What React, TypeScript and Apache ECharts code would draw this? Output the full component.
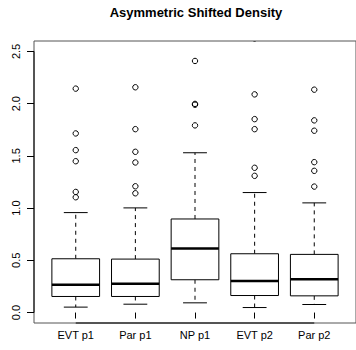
import React, { useEffect, useRef } from "react";
import * as echarts from "echarts";

const categories = ["EVT p1", "Par p1", "NP p1", "EVT p2", "Par p2"];
const lowerWhisker = [0.052, 0.08, 0.093, 0.048, 0.077];
const q1 = [0.154, 0.154, 0.314, 0.163, 0.16];
const medians = [0.266, 0.275, 0.614, 0.301, 0.32];
const q3 = [0.515, 0.512, 0.896, 0.563, 0.557];
const upperWhisker = [0.957, 1.002, 1.53, 1.149, 1.05];
const outliers = [
  [2.144, 1.715, 1.555, 1.449, 1.155, 1.104],
  [2.157, 1.756, 1.539, 1.437, 1.209, 1.142],
  [2.409, 1.998, 1.99, 1.792],
  [2.625, 2.089, 1.852, 1.756, 1.386, 1.309],
  [2.64, 2.134, 1.84, 1.741, 1.44, 1.357, 1.206],
];
const yTicks = [0, 0.5, 1, 1.5, 2, 2.5];
const xTicks = [1, 2, 3, 4, 5];
const title = "Asymmetric Shifted Density";

const FONT = "'Liberation Sans', Arial, sans-serif";

export default function App() {
  const ref = useRef<HTMLDivElement>(null);
  useEffect(() => {
    if (!ref.current) return;
    const chart = echarts.init(ref.current, null, { renderer: "svg" });
    const boxData = categories.map((_, i) => [
      i + 1,
      lowerWhisker[i],
      q1[i],
      medians[i],
      q3[i],
      upperWhisker[i],
    ]);
    const outlierData: number[][] = [];
    outliers.forEach((arr, i) => arr.forEach((v) => outlierData.push([i + 1, v])));

    const option: any = {
      animation: false,
      backgroundColor: "#fff",
      graphic: [
        {
          type: "text",
          x: 196,
          y: 6,
          style: {
            text: title,
            fontFamily: FONT,
            fontWeight: "bold",
            fontSize: 13,
            fill: "#000",
            textAlign: "center",
            textVerticalAlign: "top",
          },
        },
      ],
      grid: {
        left: 34,
        top: 41,
        width: 324,
        height: 282,
        show: true,
        borderColor: "#555",
        borderWidth: 1,
        backgroundColor: "transparent",
      },
      xAxis: {
        type: "value",
        min: 0.3,
        max: 5.7,
        axisLine: { show: false },
        splitLine: { show: false },
        axisTick: {
          show: true,
          customValues: xTicks,
          length: 6,
          lineStyle: { color: "#000", width: 1 },
        },
        axisLabel: {
          customValues: xTicks,
          formatter: (v: number) => categories[Math.round(v) - 1] ?? "",
          fontFamily: FONT,
          fontSize: 11,
          color: "#000",
          margin: 6,
        },
      },
      yAxis: {
        type: "value",
        min: -0.1,
        max: 2.6,
        axisLine: { show: false },
        splitLine: { show: false },
        axisTick: {
          show: true,
          customValues: yTicks,
          length: 7,
          lineStyle: { color: "#000", width: 1 },
        },
        axisLabel: {
          customValues: yTicks,
          formatter: (v: number) => v.toFixed(1),
          rotate: 90,
          fontFamily: FONT,
          fontSize: 11,
          color: "#000",
          margin: 13,
        },
      },
      series: [
        {
          type: "custom",
          clip: false,
          z: 10,
          data: [[0]],
          renderItem: (params: any, api: any) => {
            const a = api.coord([xTicks[0], -0.1]);
            const b = api.coord([xTicks[xTicks.length - 1], -0.1]);
            const c = api.coord([0.3, yTicks[0]]);
            const d = api.coord([0.3, yTicks[yTicks.length - 1]]);
            return {
              type: "group",
              children: [
                {
                  type: "line",
                  shape: { x1: a[0], y1: a[1], x2: b[0], y2: b[1] },
                  style: { stroke: "#000", lineWidth: 1 },
                },
                {
                  type: "line",
                  shape: { x1: c[0], y1: c[1], x2: d[0], y2: d[1] },
                  style: { stroke: "#000", lineWidth: 1 },
                },
              ],
            };
          },
        },
        {
          type: "custom",
          clip: true,
          data: boxData,
          renderItem: (params: any, api: any) => {
            const x = api.value(0);
            const lo = api.coord([x, api.value(1)]);
            const b1 = api.coord([x, api.value(2)]);
            const md = api.coord([x, api.value(3)]);
            const b3 = api.coord([x, api.value(4)]);
            const hi = api.coord([x, api.value(5)]);
            const cx = md[0];
            const halfW = api.size([0.8, 0])[0] / 2;
            const capHalf = halfW / 2;
            const st = { stroke: "#000", lineWidth: 1, fill: "none" };
            const dash = { stroke: "#000", lineWidth: 1, lineDash: [4, 4] };
            return {
              type: "group",
              children: [
                { type: "line", shape: { x1: cx, y1: b3[1], x2: cx, y2: hi[1] }, style: dash },
                { type: "line", shape: { x1: cx, y1: b1[1], x2: cx, y2: lo[1] }, style: dash },
                { type: "line", shape: { x1: cx - capHalf, y1: hi[1], x2: cx + capHalf, y2: hi[1] }, style: st },
                { type: "line", shape: { x1: cx - capHalf, y1: lo[1], x2: cx + capHalf, y2: lo[1] }, style: st },
                {
                  type: "rect",
                  shape: { x: cx - halfW, y: b3[1], width: 2 * halfW, height: b1[1] - b3[1] },
                  style: { stroke: "#000", lineWidth: 1, fill: "#fff" },
                },
                {
                  type: "line",
                  shape: { x1: cx - halfW, y1: md[1], x2: cx + halfW, y2: md[1] },
                  style: { stroke: "#000", lineWidth: 2.5 },
                },
              ],
            };
          },
        },
        {
          type: "custom",
          clip: true,
          data: outlierData,
          renderItem: (params: any, api: any) => {
            const p = api.coord([api.value(0), api.value(1)]);
            return {
              type: "circle",
              shape: { cx: p[0], cy: p[1], r: 2.7 },
              style: { stroke: "#000", lineWidth: 1, fill: "none" },
            };
          },
        },
      ],
    };
    chart.setOption(option);
    return () => chart.dispose();
  }, []);
  return (
    <div
      ref={ref}
      style={{ position: "fixed", left: 0, top: 0, width: 356, height: 350, background: "#fff" }}
    />
  );
}
